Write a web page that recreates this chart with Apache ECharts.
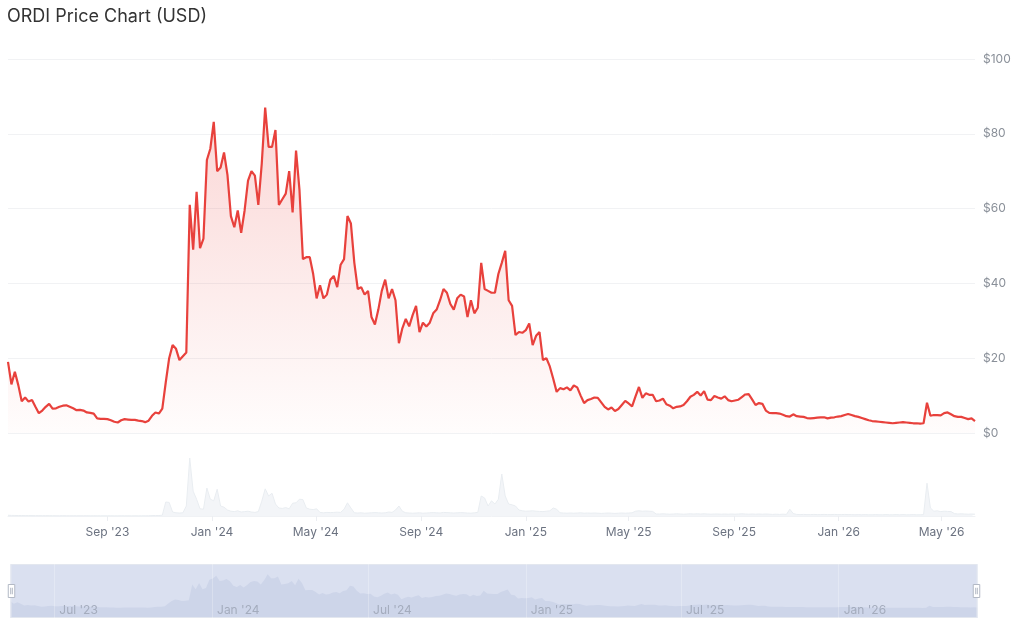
<!DOCTYPE html>
<html>
<head>
<meta charset="utf-8">
<title>ORDI Price Chart (USD)</title>
<script src="https://cdn.jsdelivr.net/npm/echarts@6.0.0/dist/echarts.min.js"></script>
<style>
  html, body { margin: 0; padding: 0; background: #fff; }
  #chart { width: 1020px; height: 631px; }
</style>
</head>
<body>
<div id="chart"></div>
<script>
// sampled every 4 days from 8 May 2023
var startDate = '2023-05-08';
var stepDays = 4;

// price, USD
var prices = [
  19.0, 13.0, 16.4, 12.8, 8.5, 9.5, 8.4, 8.8, 7.0, 5.3,
  6.0, 7.0, 7.8, 6.5, 6.6, 7.0, 7.3, 7.4, 7.0, 6.6,
  6.1, 6.2, 6.0, 5.5, 5.4, 5.2, 3.9, 3.8, 3.8, 3.7,
  3.4, 3.0, 2.8, 3.4, 3.7, 3.6, 3.5, 3.5, 3.3, 3.2,
  2.9, 3.3, 4.6, 5.5, 5.2, 6.5, 13.5, 20.0, 23.5, 22.5,
  19.5, 20.5, 21.5, 61.0, 49.0, 64.5, 49.4, 52.0, 73.0, 76.0,
  83.2, 70.0, 71.0, 75.0, 69.0, 58.0, 55.0, 59.5, 53.5, 59.5,
  67.5, 70.0, 68.8, 61.0, 72.0, 87.0, 76.5, 76.5, 81.0, 61.0,
  62.5, 64.0, 70.0, 59.0, 75.5, 65.0, 46.5, 47.0, 47.0, 42.5,
  36.0, 39.5, 36.0, 37.0, 41.0, 42.0, 39.0, 45.0, 46.5, 58.0,
  56.0, 45.5, 38.5, 39.0, 37.0, 38.0, 31.0, 29.0, 33.0, 38.0,
  41.0, 36.0, 38.5, 35.5, 24.0, 28.0, 30.5, 28.5, 31.5, 34.0,
  27.0, 29.5, 28.5, 29.5, 32.0, 33.0, 35.5, 38.5, 37.5, 34.5,
  33.0, 36.0, 37.0, 36.5, 31.0, 35.5, 32.0, 33.5, 45.5, 38.5,
  38.0, 37.5, 37.5, 42.5, 45.5, 48.7, 35.5, 34.0, 26.2, 27.0,
  26.8, 27.5, 29.3, 23.5, 26.0, 27.0, 19.5, 20.0, 17.8, 14.5,
  11.0, 12.0, 11.7, 12.2, 11.4, 12.7, 12.2, 10.0, 8.0, 8.8,
  9.1, 9.5, 9.4, 8.2, 7.0, 6.3, 6.8, 5.9, 6.4, 7.5,
  8.6, 7.9, 7.1, 9.8, 12.3, 9.4, 10.6, 10.2, 10.2, 8.5,
  8.7, 9.2, 7.7, 7.3, 6.6, 7.0, 7.1, 7.5, 8.5, 9.7,
  10.2, 11.0, 10.0, 11.2, 8.9, 8.8, 9.9, 9.5, 9.2, 9.8,
  8.8, 8.5, 8.7, 8.9, 9.6, 10.3, 10.4, 9.0, 7.5, 8.0,
  7.8, 6.0, 5.4, 5.3, 5.3, 5.2, 4.9, 4.5, 4.4, 5.0,
  4.5, 4.4, 4.3, 4.0, 3.9, 4.0, 4.1, 4.2, 4.2, 3.9,
  4.1, 4.2, 4.4, 4.5, 4.8, 5.1, 4.8, 4.5, 4.3, 4.0,
  3.7, 3.4, 3.2, 3.1, 3.0, 2.9, 2.8, 2.7, 2.6, 2.7,
  2.8, 2.9, 2.8, 2.7, 2.6, 2.6, 2.5, 2.6, 8.1, 4.6,
  4.8, 4.8, 4.7, 5.3, 5.5, 5.0, 4.5, 4.3, 4.3, 4.0,
  3.7, 3.9, 3.2
];

// 24h volume, million USD
var volumes = [
  18, 15, 14, 12, 12, 10, 11, 10, 9, 9,
  8, 9, 8, 8, 7, 7, 8, 7, 7, 6,
  6, 7, 6, 6, 5, 6, 5, 5, 5, 5,
  5, 4, 4, 5, 5, 4, 4, 5, 4, 5,
  5, 6, 10, 14, 12, 20, 350, 340, 100, 80,
  75, 80, 250, 1450, 620, 420, 180, 170, 700, 420,
  380, 670, 250, 220, 150, 120, 110, 130, 100, 110,
  120, 100, 90, 110, 370, 680, 500, 570, 300, 200,
  190, 210, 180, 320, 330, 420, 410, 200, 170, 160,
  180, 90, 80, 90, 85, 90, 95, 90, 170, 330,
  200, 80, 75, 80, 70, 75, 80, 85, 80, 75,
  80, 100, 90, 150, 250, 120, 80, 75, 70, 75,
  80, 70, 75, 80, 85, 80, 75, 90, 85, 80,
  75, 80, 85, 80, 75, 70, 80, 90, 500, 450,
  250, 380, 300, 420, 1050, 500, 300, 280, 250, 150,
  130, 120, 125, 130, 120, 115, 110, 120, 130, 200,
  170, 80, 75, 70, 75, 70, 75, 80, 70, 75,
  70, 75, 70, 65, 70, 75, 70, 65, 70, 75,
  70, 75, 80, 120, 130, 120, 125, 120, 115, 50,
  50, 55, 50, 45, 50, 55, 50, 45, 50, 55,
  50, 55, 50, 55, 50, 45, 50, 50, 45, 50,
  45, 50, 45, 50, 55, 50, 45, 50, 45, 50,
  45, 50, 45, 40, 45, 40, 45, 40, 170, 60,
  40, 35, 40, 35, 35, 40, 35, 35, 40, 35,
  35, 40, 35, 35, 40, 35, 35, 30, 35, 30,
  35, 30, 30, 35, 30, 30, 35, 30, 30, 35,
  30, 35, 30, 30, 35, 30, 30, 35, 820, 200,
  120, 130, 110, 120, 115, 110, 60, 50, 55, 50,
  45, 50, 45
];

// x axis tick labels (main axis and the zoom bar axis)
var mainTicks = ['2023-09-01', '2024-01-01', '2024-05-01', '2024-09-01', '2025-01-01',
  '2025-05-01', '2025-09-01', '2026-01-01', '2026-05-01'];
var sliderTicks = ['2023-07-01', '2024-01-01', '2024-07-01', '2025-01-01', '2025-07-01', '2026-01-01'];

var priceTicks = [0, 20, 40, 60, 80, 100];

var monthNames = ['Jan', 'Feb', 'Mar', 'Apr', 'May', 'Jun', 'Jul', 'Aug', 'Sep', 'Oct', 'Nov', 'Dec'];

function toTime(s) {
  var p = s.split('-');
  return Date.UTC(+p[0], +p[1] - 1, +p[2]);
}
function fmtMonth(v) {
  var d = new Date(v);
  return monthNames[d.getUTCMonth()] + " '" + String(d.getUTCFullYear()).slice(2);
}

var t0 = toTime(startDate);
var dayMs = 86400000;
var priceData = [];
var volData = [];
for (var i = 0; i < prices.length; i++) {
  var t = t0 + i * stepDays * dayMs;
  priceData.push([t, prices[i]]);
  volData.push([t, volumes[i]]);
}
var tMin = t0;
var tMax = t0 + (prices.length - 1) * stepDays * dayMs;

var font = 'Inter, Roboto, "Noto Sans", sans-serif';
var chart = echarts.init(document.getElementById('chart'));

var option = {
  backgroundColor: '#fff',
  animation: false,
  title: {
    text: 'ORDI Price Chart (USD)',
    left: 2,
    top: 3,
    textStyle: { fontFamily: font, fontSize: 18, fontWeight: 'normal', color: '#333' }
  },
  grid: [
    { left: 8, right: 45, top: 59, height: 374 },
    { left: 8, right: 45, top: 455, height: 61 },
    { left: 8, right: 45, top: 564, height: 54 }
  ],
  xAxis: [
    {
      type: 'value', gridIndex: 0, min: tMin, max: tMax,
      axisLine: { show: false }, axisTick: { show: false },
      axisLabel: { show: false }, splitLine: { show: false }
    },
    {
      type: 'value', gridIndex: 1, min: tMin, max: tMax,
      axisLine: { show: true, lineStyle: { color: '#f0f2f5', width: 1 } },
      axisTick: { show: true, length: 5, lineStyle: { color: '#eceef2' }, customValues: mainTicks.map(toTime) },
      axisLabel: {
        customValues: mainTicks.map(toTime),
        formatter: fmtMonth,
        color: '#6b7280', fontFamily: font, fontSize: 12, margin: 10
      },
      splitLine: { show: false }
    },
    {
      type: 'value', gridIndex: 2, min: tMin, max: tMax, z: 10,
      axisLine: { show: false },
      axisTick: { show: false, customValues: sliderTicks.map(toTime) },
      axisLabel: {
        inside: true,
        customValues: sliderTicks.map(toTime),
        formatter: fmtMonth,
        align: 'left',
        padding: [0, 0, 0, 5],
        color: '#a4acbd', fontFamily: font, fontSize: 12, margin: 2
      },
      splitLine: { show: true, lineStyle: { color: 'rgba(255,255,255,0.25)', width: 1 } }
    }
  ],
  yAxis: [
    {
      type: 'value', gridIndex: 0, position: 'right', min: 0, max: 100, interval: 20,
      axisLine: { show: false }, axisTick: { show: false },
      axisLabel: {
        formatter: function (v) { return priceTicks.indexOf(v) >= 0 ? '$' + v : ''; },
        color: '#8a9099', fontFamily: font, fontSize: 12, margin: 8
      },
      splitLine: { lineStyle: { color: '#f1f2f4', width: 1 } }
    },
    {
      type: 'value', gridIndex: 1, min: 0, max: 1525,
      show: false
    },
    {
      type: 'value', gridIndex: 2, min: 0, max: 1,
      show: false
    }
  ],
  dataZoom: [
    {
      type: 'slider',
      xAxisIndex: [0, 1],
      start: 0, end: 100,
      left: 8, right: 45, top: 564, height: 54,
      showDetail: false,
      brushSelect: false,
      moveHandleSize: 0,
      backgroundColor: 'transparent',
      borderColor: '#e3e7ef',
      fillerColor: 'rgba(172,187,222,0.45)',
      handleIcon: 'path://M0,0 L8,0 L8,16 L0,16 Z M3,4 L3,12 M5,4 L5,12',
      handleSize: 13,
      handleStyle: { color: '#fff', borderColor: '#b3b9c5', borderWidth: 1 },
      dataBackground: {
        lineStyle: { opacity: 0 },
        areaStyle: { color: 'rgba(140,155,195,0.2)', opacity: 1 }
      },
      selectedDataBackground: {
        lineStyle: { opacity: 0 },
        areaStyle: { color: 'rgba(140,155,195,0.2)', opacity: 1 }
      }
    }
  ],
  series: [
    {
      name: 'Price',
      type: 'line',
      xAxisIndex: 0,
      yAxisIndex: 0,
      data: priceData,
      showSymbol: false,
      symbol: 'none',
      lineStyle: { color: '#e8413c', width: 2.2 },
      itemStyle: { color: '#e8413c' },
      areaStyle: {
        color: new echarts.graphic.LinearGradient(0, 0, 0, 1, [
          { offset: 0, color: 'rgba(234,65,60,0.3)' },
          { offset: 1, color: 'rgba(234,65,60,0.02)' }
        ])
      },
      z: 3
    },
    {
      name: 'Volume',
      type: 'line',
      xAxisIndex: 1,
      yAxisIndex: 1,
      data: volData,
      showSymbol: false,
      symbol: 'none',
      lineStyle: { color: '#e9edf1', width: 1 },
      areaStyle: { color: '#f3f5f8', opacity: 1 }
    }
  ]
};

chart.setOption(option);
</script>
</body>
</html>
